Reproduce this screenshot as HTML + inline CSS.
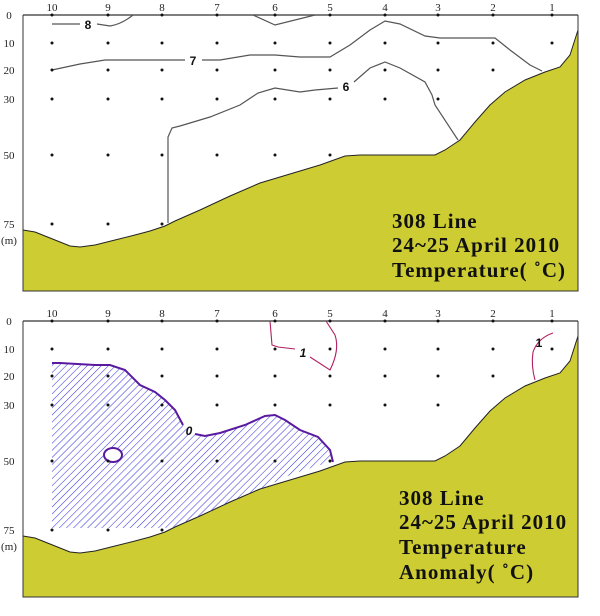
<!DOCTYPE html>
<html><head><meta charset="utf-8"><style>
body{margin:0;background:#fff;}
svg{display:block;}
.t{font-family:"Liberation Serif",serif;font-size:11px;fill:#222;}
.b{font-family:"Liberation Serif",serif;font-size:21px;font-weight:bold;fill:#111;letter-spacing:1px;}
.c{font-family:"Liberation Sans",sans-serif;font-size:12px;font-weight:bold;fill:#111;}
</style></head><body>
<svg width="600" height="616" viewBox="0 0 600 616" xmlns="http://www.w3.org/2000/svg">
<defs>
<pattern id="h" patternUnits="userSpaceOnUse" width="5" height="5" patternTransform="rotate(45)">
<line x1="0" y1="0" x2="0" y2="5" stroke="#3a3ae0" stroke-width="1.1"/>
</pattern>
<g id="terr">
<path d="M23,230 L35,232 50,238 70,246 80,247 95,245 115,240 135,235 150,231 165,226 175,221 200,210 230,196 260,183 290,174 320,165 345,156 360,155 400,155 435,155 445,150 460,140 475,122 490,105 505,92 525,80 545,72 560,67 570,55 578,30 L578,291 L23,291 Z" fill="#cdcd33" stroke="#222" stroke-width="1"/>
</g>
<g id="frame">
<line x1="23" y1="15" x2="578" y2="15" stroke="#555" stroke-width="1.5"/>
<line x1="23" y1="15" x2="23" y2="291" stroke="#333" stroke-width="1"/>
<line x1="578" y1="15" x2="578" y2="291" stroke="#333" stroke-width="1"/>
<line x1="23" y1="291" x2="578" y2="291" stroke="#333" stroke-width="1"/>
<g class="t" text-anchor="middle">
<text x="52" y="11">10</text><text x="108" y="11">9</text><text x="162" y="11">8</text><text x="217" y="11">7</text><text x="275" y="11">6</text><text x="330" y="11">5</text><text x="385" y="11">4</text><text x="438" y="11">3</text><text x="493" y="11">2</text><text x="552" y="11">1</text>
<text x="9" y="19">0</text><text x="9" y="47">10</text><text x="9" y="74">20</text><text x="9" y="103">30</text><text x="9" y="159">50</text><text x="9" y="228">75</text><text x="9" y="244">(m)</text>
</g>
<g fill="#111">
<circle cx="52" cy="15" r="1.5"/><circle cx="108" cy="15" r="1.5"/><circle cx="162" cy="15" r="1.5"/><circle cx="217" cy="15" r="1.5"/><circle cx="275" cy="15" r="1.5"/><circle cx="330" cy="15" r="1.5"/><circle cx="385" cy="15" r="1.5"/><circle cx="438" cy="15" r="1.5"/><circle cx="493" cy="15" r="1.5"/><circle cx="552" cy="15" r="1.5"/>
<circle cx="52" cy="43" r="1.5"/><circle cx="108" cy="43" r="1.5"/><circle cx="162" cy="43" r="1.5"/><circle cx="217" cy="43" r="1.5"/><circle cx="275" cy="43" r="1.5"/><circle cx="330" cy="43" r="1.5"/><circle cx="385" cy="43" r="1.5"/><circle cx="438" cy="43" r="1.5"/><circle cx="493" cy="43" r="1.5"/><circle cx="552" cy="43" r="1.5"/>
<circle cx="52" cy="70" r="1.5"/><circle cx="108" cy="70" r="1.5"/><circle cx="162" cy="70" r="1.5"/><circle cx="217" cy="70" r="1.5"/><circle cx="275" cy="70" r="1.5"/><circle cx="330" cy="70" r="1.5"/><circle cx="385" cy="70" r="1.5"/><circle cx="438" cy="70" r="1.5"/><circle cx="493" cy="70" r="1.5"/>
<circle cx="52" cy="99" r="1.5"/><circle cx="108" cy="99" r="1.5"/><circle cx="162" cy="99" r="1.5"/><circle cx="217" cy="99" r="1.5"/><circle cx="275" cy="99" r="1.5"/><circle cx="330" cy="99" r="1.5"/><circle cx="385" cy="99" r="1.5"/><circle cx="438" cy="99" r="1.5"/>
<circle cx="52" cy="155" r="1.5"/><circle cx="108" cy="155" r="1.5"/><circle cx="162" cy="155" r="1.5"/><circle cx="217" cy="155" r="1.5"/><circle cx="275" cy="155" r="1.5"/><circle cx="330" cy="155" r="1.5"/>
<circle cx="52" cy="224" r="1.5"/><circle cx="108" cy="224" r="1.5"/><circle cx="162" cy="224" r="1.5"/>
</g>
</g>
</defs>

<!-- Top chart -->
<use href="#terr"/>
<g fill="none" stroke="#555" stroke-width="1.2">
<path d="M52,24 L80,24 M97,24 L110,26 Q122,24 133,15"/>
<path d="M253,15 L275,25 L315,15"/>
<path d="M52,70 L80,64 105,60 185,60 M202,60 L220,60 250,55 275,55 300,57 330,57 350,45 370,30 385,21 400,24 425,36 440,38 495,38 510,50 530,65 542,71"/>
<path d="M168,223 L168,137 172,128 180,126 210,117 240,105 258,93 275,88 300,92 315,90 338,88 M354,82 L370,68 385,62 400,68 425,82 432,95 435,105 458,140"/>
</g>
<text class="c" x="88" y="29" text-anchor="middle">8</text>
<text class="c" x="193" y="65" text-anchor="middle">7</text>
<text class="c" x="346" y="91" text-anchor="middle">6</text>
<use href="#frame"/>
<text class="b" x="392" y="228">308 Line</text>
<text class="b" x="392" y="252">24~25 April 2010</text>
<text class="b" x="392" y="277">Temperature( ˚C)</text>

<!-- Bottom chart -->
<g transform="translate(0,306)"><use href="#terr"/></g>
<path d="M52,363 L60,363 95,365 110,365 125,370 140,385 155,392 165,400 175,410 183,425 192,433 205,436 220,433 245,425 265,416 275,415 285,420 300,430 318,437 330,450 333,462 L320,465 290,475 260,489 230,502 200,516 175,527 164,528 L52,528 Z" fill="url(#h)"/>
<path d="M52,363 L60,363 95,365 110,365 125,370 140,385 155,392 165,400 175,410 183,425 M195,434 L205,436 220,433 245,425 265,416 275,415 285,420 300,430 318,437 330,450 333,462" fill="none" stroke="#5a1aa0" stroke-width="2"/>
<ellipse cx="113" cy="455" rx="9" ry="7" fill="#fff" stroke="#5a1aa0" stroke-width="2"/>
<text class="c" x="189" y="435" text-anchor="middle" font-style="italic">0</text>
<g fill="none" stroke="#b02060" stroke-width="1.1">
<path d="M270,321 L272,345 278,347 295,349 M310,357 L330,370 Q340,350 335,335 L326,321"/>
<path d="M553,333 Q538,338 533,352 Q531,366 535,380"/>
</g>
<text class="c" x="303" y="357" text-anchor="middle" font-style="italic">1</text>
<text class="c" x="539" y="347" text-anchor="middle" font-size="10">1</text>
<g transform="translate(0,306)"><use href="#frame"/></g>
<text class="b" x="399" y="505">308 Line</text>
<text class="b" x="399" y="529">24~25 April 2010</text>
<text class="b" x="399" y="554">Temperature</text>
<text class="b" x="399" y="579">Anomaly( ˚C)</text>
</svg>
</body></html>
